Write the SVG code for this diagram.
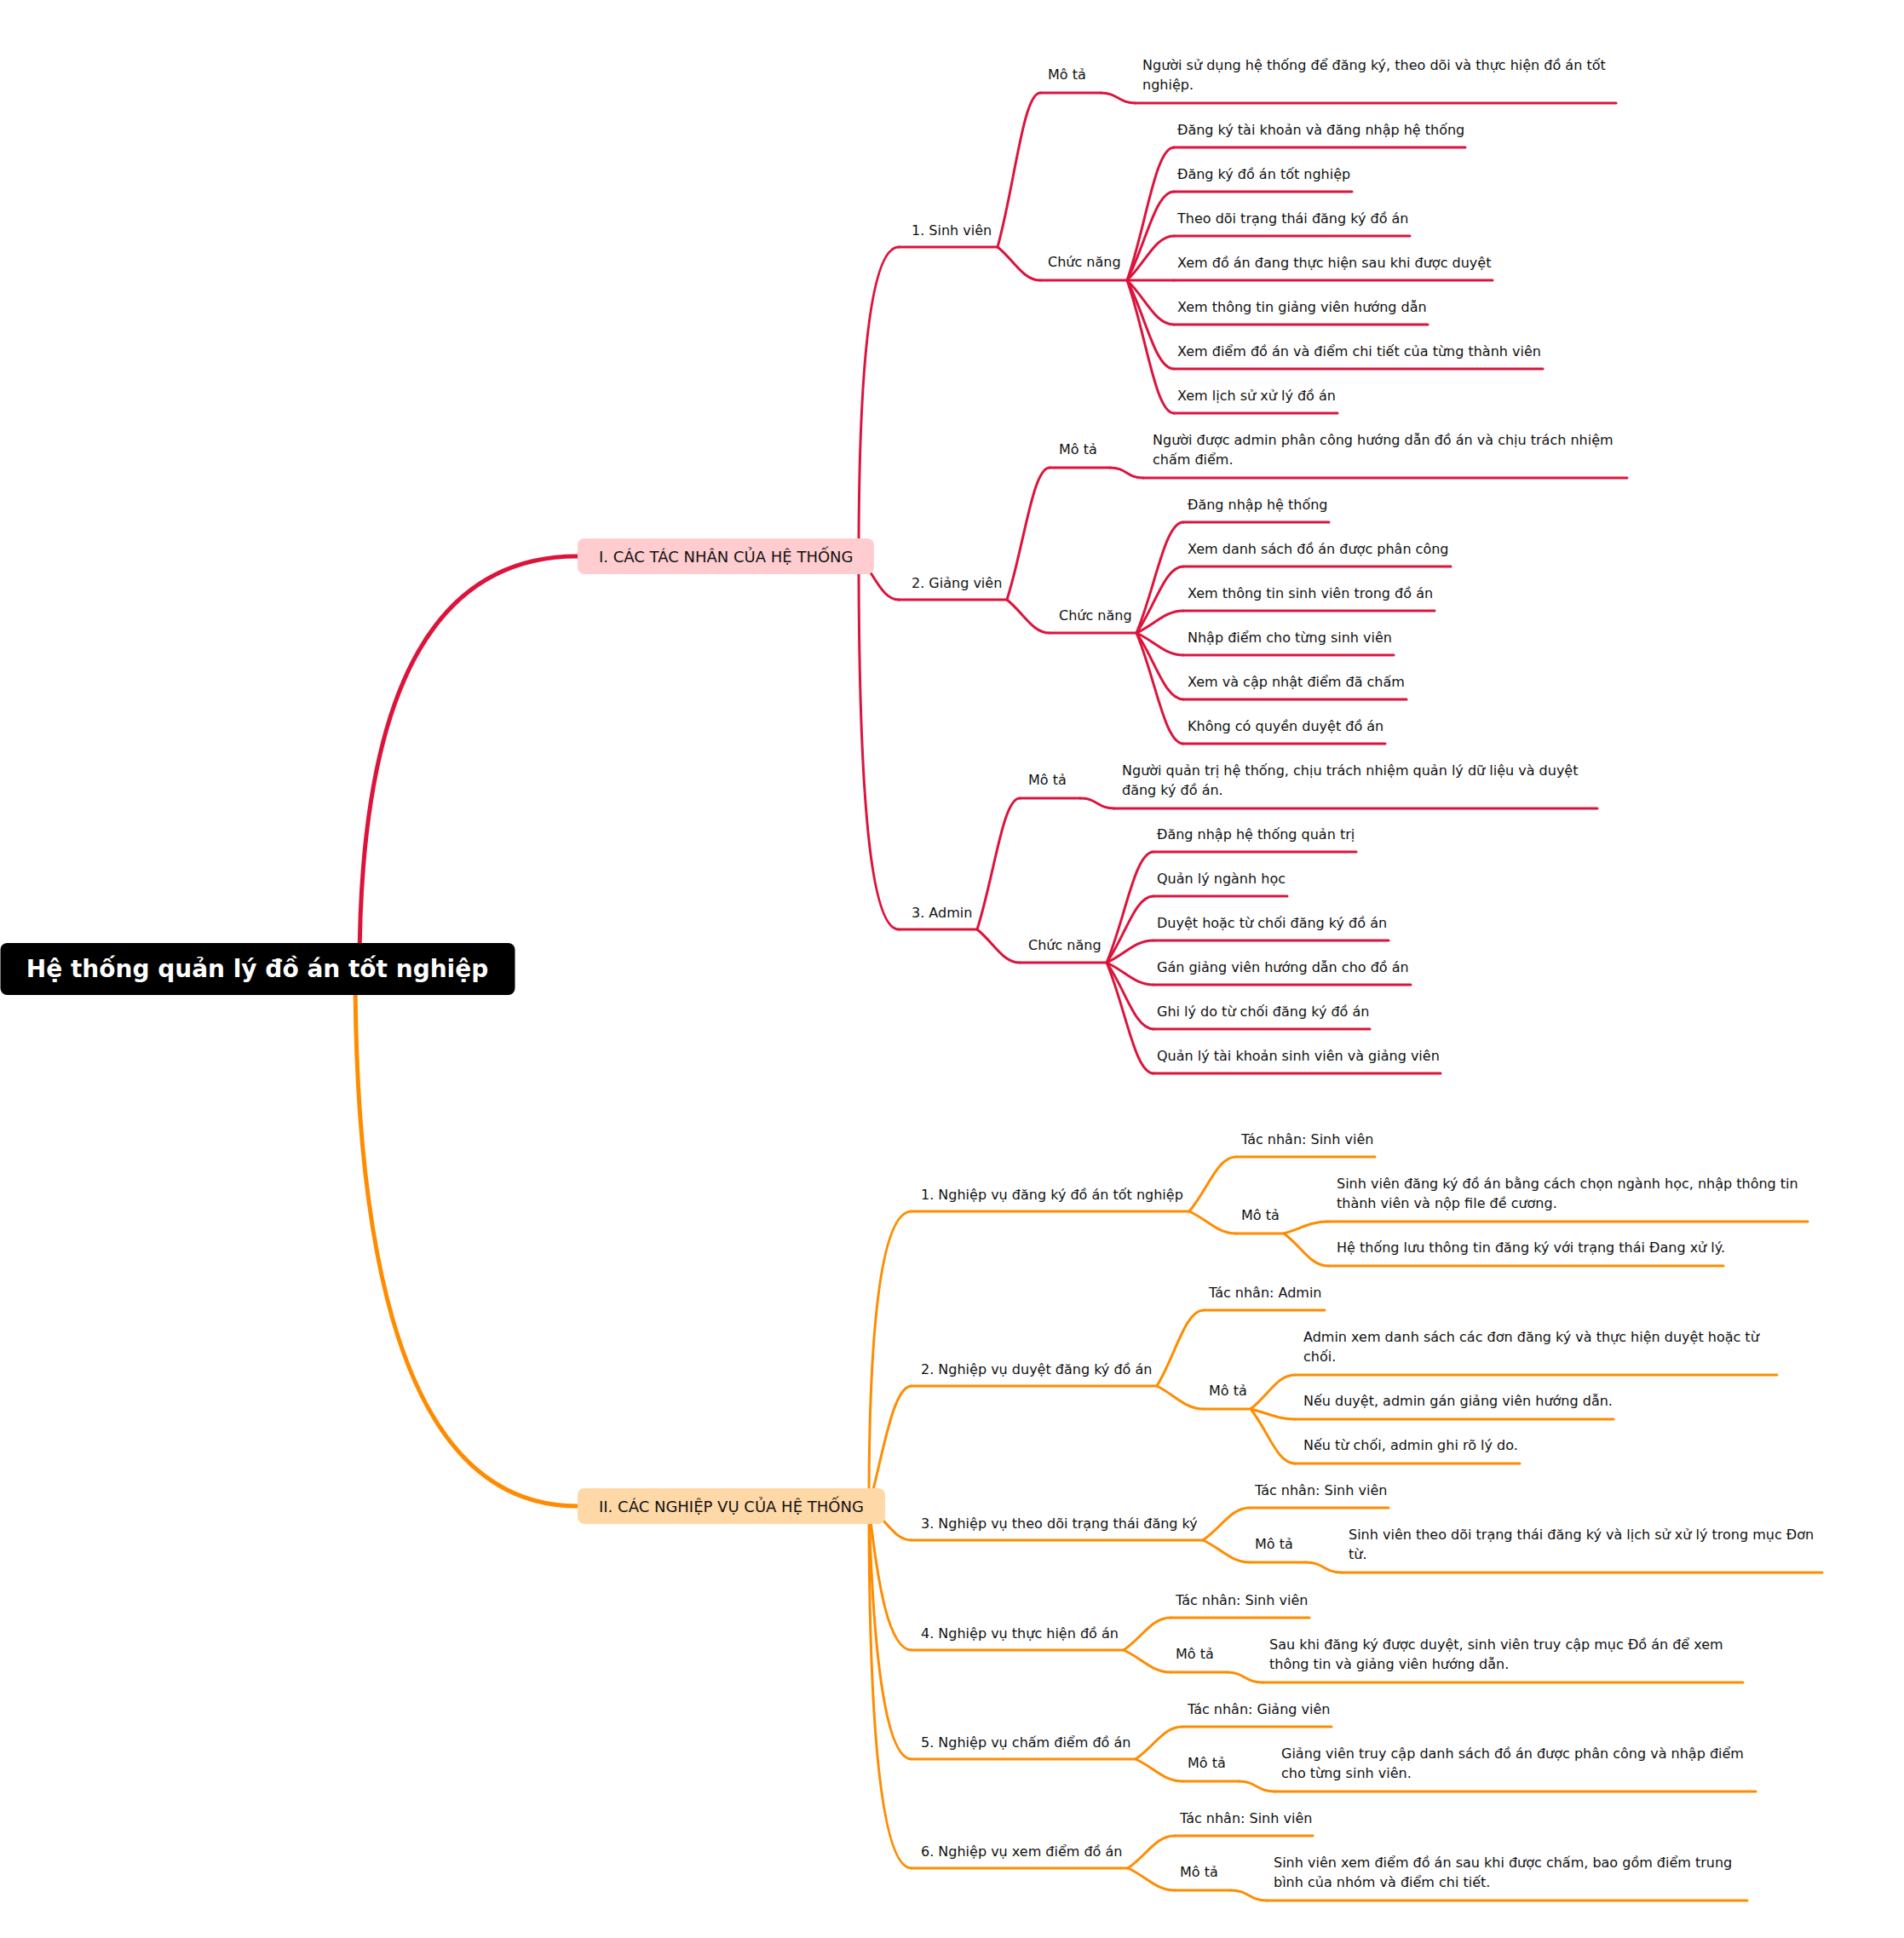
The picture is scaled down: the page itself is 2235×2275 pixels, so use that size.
<svg xmlns="http://www.w3.org/2000/svg" width="2235" height="2275" viewBox="0 0 2235 2275">
<style>
text{font-family:"DejaVu Sans","Noto Sans",sans-serif;fill:#111}
.t{font-size:16px}
.h{font-size:18px}
.root{font-size:28px;font-weight:bold;fill:#fff}
.r{fill:none;stroke:#DC143C;stroke-width:3;stroke-linecap:round}
.o{fill:none;stroke:#FF8C00;stroke-width:3;stroke-linecap:round}
.rm{fill:none;stroke:#DC143C;stroke-width:5}
.om{fill:none;stroke:#FF8C00;stroke-width:5}
</style>
<rect width="2235" height="2275" fill="#fff"/>
<g id="connectors">
<path class="rm" d="M422,1137 C422,814 507,653 678,653"/>
<path class="om" d="M417,1137 C417,1558 504,1768 678,1768"/>
<path class="r" d="M1008,653 C1008,411 1024,290 1055,290"/>
<path class="r" d="M1008,653 C1026,673 1035,704 1055,704"/>
<path class="r" d="M1008,653 C1008,945 1023,1091 1055,1091"/>
<path class="r" d="M1171,290 C1191,218 1201,109 1221,109"/>
<path class="r" d="M1171,290 C1191,306 1201,329 1221,329"/>
<path class="r" d="M1292,109 C1312,109 1313,121 1333,121"/>
<path class="r" d="M1323,329 C1345,267 1356,173 1378,173"/>
<path class="r" d="M1323,329 C1345,287 1356,225 1378,225"/>
<path class="r" d="M1323,329 C1345,308 1356,277 1378,277"/>
<path class="r" d="M1323,329 L1378,329"/>
<path class="r" d="M1323,329 C1345,350 1356,381 1378,381"/>
<path class="r" d="M1323,329 C1345,371 1356,433 1378,433"/>
<path class="r" d="M1323,329 C1345,391 1356,485 1378,485"/>
<path class="r" d="M1182,704 C1202,642 1212,549 1232,549"/>
<path class="r" d="M1182,704 C1202,720 1212,743 1232,743"/>
<path class="r" d="M1303,549 C1323,549 1322,561 1342,561"/>
<path class="r" d="M1334,743 C1356,691 1367,613 1389,613"/>
<path class="r" d="M1334,743 C1356,712 1367,665 1389,665"/>
<path class="r" d="M1334,743 C1356,733 1367,717 1389,717"/>
<path class="r" d="M1334,743 C1356,753 1367,769 1389,769"/>
<path class="r" d="M1334,743 C1356,774 1367,821 1389,821"/>
<path class="r" d="M1334,743 C1356,795 1367,873 1389,873"/>
<path class="r" d="M1147,1091 C1167,1029 1177,937 1197,937"/>
<path class="r" d="M1147,1091 C1167,1107 1177,1130 1197,1130"/>
<path class="r" d="M1268,937 C1288,937 1288,949 1308,949"/>
<path class="r" d="M1299,1130 C1321,1078 1332,1000 1354,1000"/>
<path class="r" d="M1299,1130 C1321,1099 1332,1052 1354,1052"/>
<path class="r" d="M1299,1130 C1321,1120 1332,1104 1354,1104"/>
<path class="r" d="M1299,1130 C1321,1140 1332,1156 1354,1156"/>
<path class="r" d="M1299,1130 C1321,1161 1332,1208 1354,1208"/>
<path class="r" d="M1299,1130 C1321,1182 1332,1260 1354,1260"/>
<path class="o" d="M1020,1768 C1020,1537 1037,1422 1070,1422"/>
<path class="o" d="M1020,1768 C1037,1706 1048,1627 1070,1627"/>
<path class="o" d="M1020,1768 C1040,1784 1050,1808 1070,1808"/>
<path class="o" d="M1020,1768 C1030,1858 1043,1937 1070,1937"/>
<path class="o" d="M1020,1768 C1025,1946 1040,2065 1070,2065"/>
<path class="o" d="M1020,1768 C1020,2051 1037,2193 1070,2193"/>
<path class="o" d="M1396,1422 C1418,1396 1429,1358 1451,1358"/>
<path class="o" d="M1396,1422 C1418,1432 1429,1448 1451,1448"/>
<path class="o" d="M1507,1448 C1528,1442 1538,1434 1559,1434"/>
<path class="o" d="M1507,1448 C1528,1463 1538,1486 1559,1486"/>
<path class="o" d="M1358,1627 C1380,1591 1391,1538 1413,1538"/>
<path class="o" d="M1358,1627 C1380,1638 1391,1654 1413,1654"/>
<path class="o" d="M1468,1654 C1489,1638 1499,1614 1520,1614"/>
<path class="o" d="M1468,1654 C1489,1659 1499,1666 1520,1666"/>
<path class="o" d="M1468,1654 C1489,1680 1499,1718 1520,1718"/>
<path class="o" d="M1412,1808 C1434,1793 1445,1770 1467,1770"/>
<path class="o" d="M1412,1808 C1434,1818 1445,1834 1467,1834"/>
<path class="o" d="M1533,1834 C1554,1834 1554,1846 1575,1846"/>
<path class="o" d="M1319,1937 C1341,1922 1352,1899 1374,1899"/>
<path class="o" d="M1319,1937 C1341,1947 1352,1963 1374,1963"/>
<path class="o" d="M1440,1963 C1461,1963 1461,1975 1482,1975"/>
<path class="o" d="M1333,2065 C1355,2050 1366,2027 1388,2027"/>
<path class="o" d="M1333,2065 C1355,2075 1366,2091 1388,2091"/>
<path class="o" d="M1454,2091 C1475,2091 1475,2103 1496,2103"/>
<path class="o" d="M1324,2193 C1346,2178 1357,2155 1379,2155"/>
<path class="o" d="M1324,2193 C1346,2203 1357,2219 1379,2219"/>
<path class="o" d="M1445,2219 C1466,2219 1466,2231 1487,2231"/>
</g>
<g id="root"><rect x="0.5" y="1107" width="604" height="61" rx="8" fill="#000"/><text class="root" x="302" y="1147" text-anchor="middle">Hệ thống quản lý đồ án tốt nghiệp</text></g>
<g id="n-I"><rect x="678" y="632" width="348" height="42" rx="8" fill="#FFCDCF"/><text class="h" x="703" y="660">I. CÁC TÁC NHÂN CỦA HỆ THỐNG</text></g>
<g id="n-II"><rect x="678" y="1747" width="361" height="42" rx="8" fill="#FFD8A8"/><text class="h" x="703" y="1775">II. CÁC NGHIỆP VỤ CỦA HỆ THỐNG</text></g>

<g id="sv"><text class="t" x="1070" y="276">1. Sinh viên</text><path class="r" d="M1055,290H1171"/></g>
<g id="sv-mota"><text class="t" x="1230" y="93">Mô tả</text><path class="r" d="M1221,109H1292"/></g>
<g id="sv-mota-d"><text class="t" x="1341" y="82">Người sử dụng hệ thống để đăng ký, theo dõi và thực hiện đồ án tốt</text><text class="t" x="1341" y="105">nghiệp.</text><path class="r" d="M1333,121H1897"/></g>
<g id="sv-cn"><text class="t" x="1230" y="313">Chức năng</text><path class="r" d="M1221,329H1323"/></g>
<g id="sv-cn-1"><text class="t" x="1382" y="158">Đăng ký tài khoản và đăng nhập hệ thống</text><path class="r" d="M1378,173H1720"/></g>
<g id="sv-cn-2"><text class="t" x="1382" y="210">Đăng ký đồ án tốt nghiệp</text><path class="r" d="M1378,225H1587"/></g>
<g id="sv-cn-3"><text class="t" x="1382" y="262">Theo dõi trạng thái đăng ký đồ án</text><path class="r" d="M1378,277H1655"/></g>
<g id="sv-cn-4"><text class="t" x="1382" y="314">Xem đồ án đang thực hiện sau khi được duyệt</text><path class="r" d="M1378,329H1752"/></g>
<g id="sv-cn-5"><text class="t" x="1382" y="366">Xem thông tin giảng viên hướng dẫn</text><path class="r" d="M1378,381H1676"/></g>
<g id="sv-cn-6"><text class="t" x="1382" y="418">Xem điểm đồ án và điểm chi tiết của từng thành viên</text><path class="r" d="M1378,433H1811"/></g>
<g id="sv-cn-7"><text class="t" x="1382" y="470">Xem lịch sử xử lý đồ án</text><path class="r" d="M1378,485H1570"/></g>

<g id="gv"><text class="t" x="1070" y="690">2. Giảng viên</text><path class="r" d="M1055,704H1182"/></g>
<g id="gv-mota"><text class="t" x="1243" y="533">Mô tả</text><path class="r" d="M1232,549H1303"/></g>
<g id="gv-mota-d"><text class="t" x="1353" y="522">Người được admin phân công hướng dẫn đồ án và chịu trách nhiệm</text><text class="t" x="1353" y="545">chấm điểm.</text><path class="r" d="M1342,561H1910"/></g>
<g id="gv-cn"><text class="t" x="1243" y="728">Chức năng</text><path class="r" d="M1232,743H1334"/></g>
<g id="gv-cn-1"><text class="t" x="1394" y="598">Đăng nhập hệ thống</text><path class="r" d="M1389,613H1560"/></g>
<g id="gv-cn-2"><text class="t" x="1394" y="650">Xem danh sách đồ án được phân công</text><path class="r" d="M1389,665H1703"/></g>
<g id="gv-cn-3"><text class="t" x="1394" y="702">Xem thông tin sinh viên trong đồ án</text><path class="r" d="M1389,717H1684"/></g>
<g id="gv-cn-4"><text class="t" x="1394" y="754">Nhập điểm cho từng sinh viên</text><path class="r" d="M1389,769H1636"/></g>
<g id="gv-cn-5"><text class="t" x="1394" y="806">Xem và cập nhật điểm đã chấm</text><path class="r" d="M1389,821H1651"/></g>
<g id="gv-cn-6"><text class="t" x="1394" y="858">Không có quyền duyệt đồ án</text><path class="r" d="M1389,873H1626"/></g>

<g id="ad"><text class="t" x="1070" y="1077">3. Admin</text><path class="r" d="M1055,1091H1147"/></g>
<g id="ad-mota"><text class="t" x="1207" y="921">Mô tả</text><path class="r" d="M1197,937H1268"/></g>
<g id="ad-mota-d"><text class="t" x="1317" y="910">Người quản trị hệ thống, chịu trách nhiệm quản lý dữ liệu và duyệt</text><text class="t" x="1317" y="933">đăng ký đồ án.</text><path class="r" d="M1308,949H1875"/></g>
<g id="ad-cn"><text class="t" x="1207" y="1115">Chức năng</text><path class="r" d="M1197,1130H1299"/></g>
<g id="ad-cn-1"><text class="t" x="1358" y="985">Đăng nhập hệ thống quản trị</text><path class="r" d="M1354,1000H1592"/></g>
<g id="ad-cn-2"><text class="t" x="1358" y="1037">Quản lý ngành học</text><path class="r" d="M1354,1052H1511"/></g>
<g id="ad-cn-3"><text class="t" x="1358" y="1089">Duyệt hoặc từ chối đăng ký đồ án</text><path class="r" d="M1354,1104H1630"/></g>
<g id="ad-cn-4"><text class="t" x="1358" y="1141">Gán giảng viên hướng dẫn cho đồ án</text><path class="r" d="M1354,1156H1656"/></g>
<g id="ad-cn-5"><text class="t" x="1358" y="1193">Ghi lý do từ chối đăng ký đồ án</text><path class="r" d="M1354,1208H1608"/></g>
<g id="ad-cn-6"><text class="t" x="1358" y="1245">Quản lý tài khoản sinh viên và giảng viên</text><path class="r" d="M1354,1260H1691"/></g>

<g id="nv1"><text class="t" x="1081" y="1408">1. Nghiệp vụ đăng ký đồ án tốt nghiệp</text><path class="o" d="M1070,1422H1396"/></g>
<g id="nv1-tn"><text class="t" x="1457" y="1343">Tác nhân: Sinh viên</text><path class="o" d="M1451,1358H1614"/></g>
<g id="nv1-mota"><text class="t" x="1457" y="1432">Mô tả</text><path class="o" d="M1451,1448H1507"/></g>
<g id="nv1-d1"><text class="t" x="1569" y="1395">Sinh viên đăng ký đồ án bằng cách chọn ngành học, nhập thông tin</text><text class="t" x="1569" y="1418">thành viên và nộp file đề cương.</text><path class="o" d="M1559,1434H2122"/></g>
<g id="nv1-d2"><text class="t" x="1569" y="1470">Hệ thống lưu thông tin đăng ký với trạng thái Đang xử lý.</text><path class="o" d="M1559,1486H2023"/></g>

<g id="nv2"><text class="t" x="1081" y="1613">2. Nghiệp vụ duyệt đăng ký đồ án</text><path class="o" d="M1070,1627H1358"/></g>
<g id="nv2-tn"><text class="t" x="1419" y="1523">Tác nhân: Admin</text><path class="o" d="M1413,1538H1555"/></g>
<g id="nv2-mota"><text class="t" x="1419" y="1638">Mô tả</text><path class="o" d="M1413,1654H1468"/></g>
<g id="nv2-d1"><text class="t" x="1530" y="1575">Admin xem danh sách các đơn đăng ký và thực hiện duyệt hoặc từ</text><text class="t" x="1530" y="1598">chối.</text><path class="o" d="M1520,1614H2086"/></g>
<g id="nv2-d2"><text class="t" x="1530" y="1650">Nếu duyệt, admin gán giảng viên hướng dẫn.</text><path class="o" d="M1520,1666H1894"/></g>
<g id="nv2-d3"><text class="t" x="1530" y="1702">Nếu từ chối, admin ghi rõ lý do.</text><path class="o" d="M1520,1718H1784"/></g>

<g id="nv3"><text class="t" x="1081" y="1794">3. Nghiệp vụ theo dõi trạng thái đăng ký</text><path class="o" d="M1070,1808H1412"/></g>
<g id="nv3-tn"><text class="t" x="1473" y="1755">Tác nhân: Sinh viên</text><path class="o" d="M1467,1770H1630"/></g>
<g id="nv3-mota"><text class="t" x="1473" y="1818">Mô tả</text><path class="o" d="M1467,1834H1533"/></g>
<g id="nv3-d"><text class="t" x="1583" y="1807">Sinh viên theo dõi trạng thái đăng ký và lịch sử xử lý trong mục Đơn</text><text class="t" x="1583" y="1830">từ.</text><path class="o" d="M1575,1846H2139"/></g>

<g id="nv4"><text class="t" x="1081" y="1923">4. Nghiệp vụ thực hiện đồ án</text><path class="o" d="M1070,1937H1319"/></g>
<g id="nv4-tn"><text class="t" x="1380" y="1884">Tác nhân: Sinh viên</text><path class="o" d="M1374,1899H1537"/></g>
<g id="nv4-mota"><text class="t" x="1380" y="1947">Mô tả</text><path class="o" d="M1374,1963H1440"/></g>
<g id="nv4-d"><text class="t" x="1490" y="1936">Sau khi đăng ký được duyệt, sinh viên truy cập mục Đồ án để xem</text><text class="t" x="1490" y="1959">thông tin và giảng viên hướng dẫn.</text><path class="o" d="M1482,1975H2046"/></g>

<g id="nv5"><text class="t" x="1081" y="2051">5. Nghiệp vụ chấm điểm đồ án</text><path class="o" d="M1070,2065H1333"/></g>
<g id="nv5-tn"><text class="t" x="1394" y="2012">Tác nhân: Giảng viên</text><path class="o" d="M1388,2027H1563"/></g>
<g id="nv5-mota"><text class="t" x="1394" y="2075">Mô tả</text><path class="o" d="M1388,2091H1454"/></g>
<g id="nv5-d"><text class="t" x="1504" y="2064">Giảng viên truy cập danh sách đồ án được phân công và nhập điểm</text><text class="t" x="1504" y="2087">cho từng sinh viên.</text><path class="o" d="M1496,2103H2061"/></g>

<g id="nv6"><text class="t" x="1081" y="2179">6. Nghiệp vụ xem điểm đồ án</text><path class="o" d="M1070,2193H1324"/></g>
<g id="nv6-tn"><text class="t" x="1385" y="2140">Tác nhân: Sinh viên</text><path class="o" d="M1379,2155H1541"/></g>
<g id="nv6-mota"><text class="t" x="1385" y="2203">Mô tả</text><path class="o" d="M1379,2219H1445"/></g>
<g id="nv6-d"><text class="t" x="1495" y="2192">Sinh viên xem điểm đồ án sau khi được chấm, bao gồm điểm trung</text><text class="t" x="1495" y="2215">bình của nhóm và điểm chi tiết.</text><path class="o" d="M1487,2231H2051"/></g>
</svg>
